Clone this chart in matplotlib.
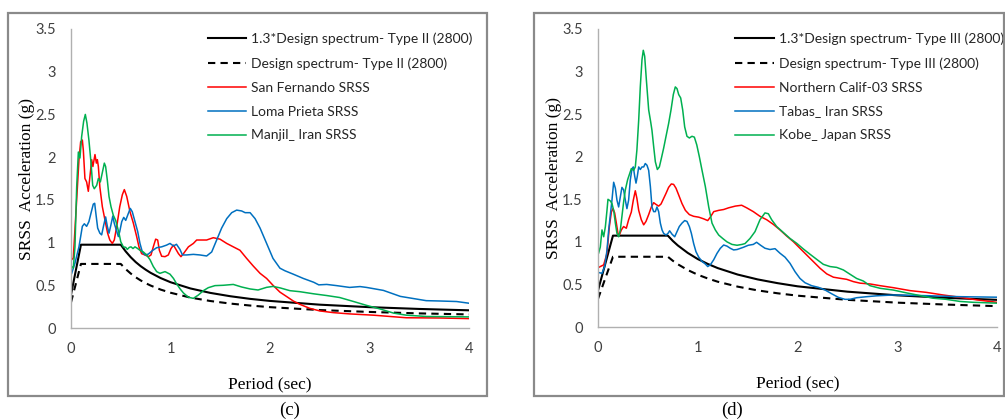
import matplotlib
matplotlib.use("Agg")
import matplotlib.pyplot as plt
from matplotlib.patches import Rectangle
from matplotlib.ticker import FuncFormatter, MultipleLocator

# ---- design spectra (2800 code), period in sec, acceleration in g ----
design2_T = [0, 0.1, 0.5, 0.55, 0.6, 0.65, 0.7, 0.75, 0.8, 0.9,
             1.0, 1.2, 1.4, 1.6, 1.8, 2.0, 2.5, 3.0, 3.5, 4.0]
design2_A = [0.30, 0.75, 0.75, 0.689, 0.638, 0.594, 0.557, 0.525, 0.497, 0.450,
             0.413, 0.356, 0.316, 0.286, 0.263, 0.244, 0.210, 0.188, 0.171, 0.159]
scaled2_A = [0.39, 0.975, 0.975, 0.896, 0.829, 0.772, 0.724, 0.683, 0.646, 0.585,
             0.536, 0.463, 0.411, 0.372, 0.341, 0.317, 0.273, 0.244, 0.223, 0.207]

design3_T = [0, 0.15, 0.7, 0.75, 0.8, 0.9, 1.0, 1.1, 1.2, 1.4,
             1.6, 1.8, 2.0, 2.5, 3.0, 3.5, 4.0]
design3_A = [0.33, 0.825, 0.825, 0.778, 0.737, 0.669, 0.614, 0.570, 0.532, 0.474,
             0.430, 0.396, 0.368, 0.319, 0.286, 0.263, 0.245]
scaled3_A = [0.429, 1.073, 1.073, 1.011, 0.958, 0.870, 0.798, 0.741, 0.692, 0.616,
             0.559, 0.515, 0.478, 0.415, 0.372, 0.342, 0.319]

# ---- SRSS spectra, soil type II ----
sf_T = [0.007, 0.023, 0.057, 0.08, 0.097, 0.114, 0.124, 0.14, 0.157, 0.174,
        0.19, 0.208, 0.22, 0.241, 0.255, 0.265, 0.275, 0.29, 0.315, 0.342,
        0.368, 0.39, 0.415, 0.435, 0.46, 0.49, 0.516, 0.536, 0.56, 0.593,
        0.626, 0.66, 0.683, 0.71, 0.744, 0.777, 0.804, 0.827, 0.851, 0.871,
        0.888, 0.911, 0.945, 0.978, 1.005, 1.03, 1.055, 1.08, 1.105, 1.13,
        1.18, 1.23, 1.263, 1.313, 1.363, 1.43, 1.497, 1.565, 1.631, 1.698,
        1.765, 1.832, 1.9, 1.966, 2.03, 2.1, 2.17, 2.234, 2.3, 2.4,
        2.5, 2.636, 2.8, 3.04, 3.37, 3.71, 4.0]
sf_A = [0.80, 0.82, 1.5, 1.97, 2.18, 2.2, 2.08, 1.75, 1.71, 1.6,
        1.77, 1.97, 1.89, 2.03, 1.93, 1.97, 1.89, 1.65, 1.42, 1.26,
        1.11, 1.03, 0.99, 1.03, 1.19, 1.42, 1.56, 1.62, 1.54, 1.36,
        1.23, 1.07, 0.95, 0.87, 0.855, 0.835, 0.855, 0.95, 1.04, 1.03,
        0.91, 0.84, 0.835, 0.855, 0.93, 0.97, 0.92, 0.87, 0.835, 0.87,
        0.95, 0.99, 1.03, 1.03, 1.03, 1.057, 1.04, 0.99, 0.95, 0.91,
        0.815, 0.725, 0.64, 0.58, 0.50, 0.42, 0.366, 0.316, 0.277, 0.23,
        0.20, 0.18, 0.165, 0.15, 0.12, 0.117, 0.11]

lp_T = [0.007, 0.04, 0.067, 0.08, 0.097, 0.114, 0.134, 0.157, 0.18, 0.2,
        0.224, 0.238, 0.25, 0.268, 0.29, 0.308, 0.328, 0.348, 0.365, 0.382,
        0.4, 0.42, 0.435, 0.46, 0.476, 0.49, 0.51, 0.53, 0.55, 0.576,
        0.596, 0.616, 0.643, 0.67, 0.693, 0.717, 0.744, 0.777, 0.817, 0.861,
        0.911, 0.96, 0.995, 1.03, 1.06, 1.095, 1.12, 1.16, 1.23, 1.296,
        1.363, 1.414, 1.464, 1.514, 1.565, 1.615, 1.665, 1.715, 1.75, 1.8,
        1.85, 1.9, 1.966, 2.03, 2.1, 2.15, 2.234, 2.335, 2.44, 2.49,
        2.57, 2.67, 2.8, 2.905, 2.97, 3.14, 3.31, 3.44, 3.57, 3.71,
        3.875, 4.0]
lp_A = [0.64, 0.76, 0.89, 0.95, 1.07, 1.19, 1.22, 1.19, 1.245, 1.34,
        1.45, 1.46, 1.34, 1.17, 1.11, 1.09, 1.2, 1.30, 1.19, 1.11,
        1.2, 1.31, 1.225, 1.13, 1.07, 1.13, 1.245, 1.295, 1.26, 1.34,
        1.40, 1.36, 1.245, 1.13, 0.99, 0.89, 0.855, 0.865, 0.905, 0.94,
        0.95, 0.97, 0.99, 0.96, 0.98, 0.92, 0.855, 0.855, 0.862, 0.855,
        0.843, 0.89, 1.03, 1.17, 1.28, 1.35, 1.38, 1.37, 1.35, 1.35,
        1.28, 1.17, 0.99, 0.815, 0.70, 0.67, 0.63, 0.58, 0.535, 0.505,
        0.51, 0.496, 0.475, 0.485, 0.475, 0.44, 0.37, 0.345, 0.32, 0.316,
        0.31, 0.29]

mj_T = [0.007, 0.023, 0.04, 0.057, 0.074, 0.09, 0.107, 0.127, 0.144, 0.16,
        0.18, 0.2, 0.218, 0.234, 0.258, 0.275, 0.295, 0.315, 0.335, 0.348,
        0.365, 0.382, 0.402, 0.425, 0.449, 0.469, 0.486, 0.5, 0.526, 0.55,
        0.566, 0.586, 0.603, 0.623, 0.643, 0.67, 0.693, 0.727, 0.76, 0.794,
        0.827, 0.861, 0.894, 0.945, 0.995, 1.03, 1.06, 1.095, 1.13, 1.18,
        1.23, 1.28, 1.33, 1.38, 1.447, 1.53, 1.631, 1.715, 1.8, 1.88,
        1.966, 2.03, 2.1, 2.2, 2.3, 2.44, 2.57, 2.7, 2.84, 2.97,
        3.1, 3.24, 3.37, 3.57, 3.77, 4.0]
mj_A = [0.72, 0.70, 0.95, 1.65, 2.06, 1.99, 2.24, 2.42, 2.50, 2.40,
        2.20, 1.95, 1.67, 1.63, 1.67, 1.75, 1.71, 1.82, 1.93, 1.89,
        1.73, 1.54, 1.42, 1.32, 1.26, 1.17, 1.09, 1.01, 0.95, 0.944,
        0.92, 0.944, 0.95, 0.93, 0.95, 0.93, 0.91, 0.89, 0.855, 0.80,
        0.72, 0.66, 0.64, 0.66, 0.63, 0.58, 0.52, 0.46, 0.41, 0.36,
        0.347, 0.386, 0.437, 0.472, 0.496, 0.50, 0.51, 0.48, 0.457, 0.445,
        0.476, 0.487, 0.47, 0.437, 0.425, 0.40, 0.38, 0.357, 0.31, 0.265,
        0.225, 0.175, 0.15, 0.135, 0.133, 0.13]

# ---- SRSS spectra, soil type III ----
nc_T = [0.007, 0.057, 0.09, 0.114, 0.134, 0.15, 0.167, 0.184, 0.2, 0.214,
        0.234, 0.257, 0.284, 0.307, 0.334, 0.354, 0.374, 0.39, 0.408, 0.434,
        0.458, 0.481, 0.508, 0.535, 0.558, 0.581, 0.608, 0.632, 0.658, 0.682,
        0.708, 0.735, 0.758, 0.782, 0.809, 0.842, 0.876, 0.916, 0.959, 1.01,
        1.06, 1.10, 1.126, 1.16, 1.21, 1.26, 1.31, 1.377, 1.44, 1.49,
        1.557, 1.624, 1.691, 1.758, 1.825, 1.89, 1.958, 2.025, 2.092, 2.159,
        2.226, 2.293, 2.36, 2.426, 2.493, 2.56, 2.627, 2.73, 2.83, 2.96,
        3.13, 3.29, 3.46, 3.63, 3.80, 4.0]
nc_A = [0.70, 0.73, 0.865, 1.18, 1.35, 1.39, 1.34, 1.22, 1.10, 1.08,
        1.14, 1.18, 1.16, 1.26, 1.35, 1.49, 1.60, 1.51, 1.37, 1.26,
        1.20, 1.24, 1.32, 1.41, 1.46, 1.44, 1.42, 1.445, 1.51, 1.57,
        1.64, 1.68, 1.675, 1.63, 1.55, 1.45, 1.37, 1.32, 1.30, 1.29,
        1.27, 1.25, 1.29, 1.355, 1.37, 1.38, 1.40, 1.42, 1.43, 1.40,
        1.355, 1.30, 1.26, 1.205, 1.14, 1.07, 1.003, 0.924, 0.846, 0.768,
        0.69, 0.624, 0.585, 0.572, 0.56, 0.533, 0.515, 0.505, 0.485, 0.462,
        0.427, 0.407, 0.376, 0.349, 0.318, 0.29]

tb_T = [0.007, 0.04, 0.067, 0.09, 0.107, 0.124, 0.14, 0.157, 0.174, 0.19,
        0.207, 0.224, 0.24, 0.257, 0.274, 0.29, 0.307, 0.324, 0.341, 0.354,
        0.368, 0.381, 0.394, 0.408, 0.424, 0.441, 0.458, 0.474, 0.491, 0.508,
        0.525, 0.541, 0.558, 0.575, 0.591, 0.608, 0.625, 0.642, 0.658, 0.682,
        0.702, 0.718, 0.742, 0.769, 0.792, 0.815, 0.842, 0.869, 0.892, 0.916,
        0.936, 0.959, 0.982, 1.01, 1.043, 1.076, 1.10, 1.126, 1.16, 1.193,
        1.226, 1.26, 1.293, 1.327, 1.36, 1.394, 1.457, 1.507, 1.557, 1.59,
        1.63, 1.674, 1.724, 1.775, 1.825, 1.875, 1.925, 1.975, 2.025, 2.075,
        2.142, 2.209, 2.276, 2.343, 2.41, 2.476, 2.526, 2.593, 2.694, 2.79,
        2.96, 3.29, 3.63, 4.0]
tb_A = [0.64, 0.63, 0.71, 0.90, 1.14, 1.32, 1.49, 1.70, 1.63, 1.49,
        1.41, 1.53, 1.64, 1.61, 1.49, 1.39, 1.49, 1.73, 1.86, 1.88,
        1.77, 1.69, 1.77, 1.88, 1.85, 1.88, 1.88, 1.92, 1.90, 1.84,
        1.65, 1.41, 1.355, 1.355, 1.41, 1.355, 1.22, 1.14, 1.10, 1.08,
        1.10, 1.13, 1.09, 1.06, 1.12, 1.18, 1.22, 1.25, 1.24, 1.18,
        1.10, 0.98, 0.885, 0.82, 0.77, 0.74, 0.71, 0.73, 0.79, 0.865,
        0.924, 0.963, 0.95, 0.924, 0.905, 0.91, 0.936, 0.96, 0.97, 0.995,
        0.96, 0.925, 0.91, 0.92, 0.866, 0.82, 0.748, 0.65, 0.57, 0.52,
        0.485, 0.466, 0.435, 0.39, 0.348, 0.325, 0.325, 0.344, 0.356, 0.366,
        0.376, 0.368, 0.356, 0.35]

kb_T = [0.007, 0.023, 0.04, 0.057, 0.074, 0.09, 0.1, 0.124, 0.14, 0.157,
        0.174, 0.19, 0.207, 0.224, 0.24, 0.257, 0.274, 0.297, 0.317, 0.334,
        0.357, 0.374, 0.39, 0.408, 0.424, 0.441, 0.454, 0.468, 0.485, 0.508,
        0.528, 0.541, 0.558, 0.575, 0.595, 0.615, 0.635, 0.658, 0.682, 0.708,
        0.732, 0.755, 0.775, 0.792, 0.809, 0.829, 0.849, 0.869, 0.892, 0.916,
        0.942, 0.966, 0.99, 1.016, 1.043, 1.076, 1.11, 1.143, 1.176, 1.21,
        1.25, 1.293, 1.343, 1.394, 1.444, 1.474, 1.524, 1.574, 1.624, 1.674,
        1.708, 1.741, 1.791, 1.858, 1.925, 1.992, 2.059, 2.126, 2.192, 2.259,
        2.326, 2.393, 2.46, 2.526, 2.593, 2.66, 2.727, 2.83, 2.96, 3.095,
        3.23, 3.36, 3.49, 3.63, 3.76, 4.0]
kb_A = [0.87, 0.94, 1.14, 1.06, 1.18, 1.37, 1.50, 1.48, 1.45, 1.37,
        1.22, 1.10, 1.06, 1.14, 1.30, 1.47, 1.61, 1.73, 1.80, 1.86,
        1.84, 1.88, 2.08, 2.43, 2.82, 3.14, 3.25, 3.18, 2.90, 2.55,
        2.41, 2.31, 2.12, 1.94, 1.85, 1.88, 1.98, 2.10, 2.24, 2.39,
        2.55, 2.73, 2.82, 2.80, 2.73, 2.69, 2.55, 2.35, 2.24, 2.22,
        2.24, 2.23, 2.14, 2.0, 1.84, 1.65, 1.41, 1.22, 1.14, 1.08,
        1.04, 1.00, 0.97, 0.96, 0.97, 0.98, 1.04, 1.12, 1.26, 1.34,
        1.33, 1.26, 1.18, 1.11, 1.04, 0.983, 0.916, 0.854, 0.795, 0.736,
        0.71, 0.70, 0.67, 0.62, 0.57, 0.54, 0.485, 0.454, 0.434, 0.40,
        0.369, 0.338, 0.325, 0.30, 0.29, 0.28]

RED = "#ff0000"
BLUE = "#0070c0"
GREEN = "#00b050"
TICK_FONT = "Lato"
LABEL_FONT = "Liberation Serif"


def draw_panel(ax, T_d, A_d, A_s, soil, records):
    ax.plot(T_d, A_s, color="black", lw=1.5,
            label="1.3*Design spectrum- Type %s (2800)" % soil)
    ax.plot(T_d, A_d, color="black", lw=1.5, ls=(0, (3.5, 2.5)),
            label="Design spectrum- Type %s (2800)" % soil)
    for T, A, c, name in records:
        ax.plot(T, A, color=c, lw=1.1, label=name)

    ax.set_xlim(0, 4)
    ax.set_ylim(0, 3.5)
    ax.xaxis.set_major_locator(MultipleLocator(1))
    ax.yaxis.set_major_locator(MultipleLocator(0.5))
    ax.yaxis.set_major_formatter(FuncFormatter(lambda v, p: "%g" % v))
    ax.tick_params(length=0, labelsize=10.5, colors="#404040")
    ax.tick_params(axis="y", pad=11)
    ax.tick_params(axis="x", pad=10)
    for lab in ax.get_xticklabels() + ax.get_yticklabels():
        lab.set_fontfamily(TICK_FONT)
    for side in ("top", "right"):
        ax.spines[side].set_visible(False)
    for side in ("left", "bottom"):
        ax.spines[side].set_color("#b0b0b0")
        ax.spines[side].set_linewidth(1.0)

    ax.set_xlabel("Period (sec)", fontfamily=LABEL_FONT, fontsize=12.5, labelpad=15)
    ax.set_ylabel("SRSS  Acceleration (g)", fontfamily=LABEL_FONT, fontsize=12.5,
                  labelpad=0)

    leg = ax.legend(loc="upper left", bbox_to_anchor=(0.343, 0.988), frameon=False,
                    borderaxespad=0, borderpad=0, handlelength=2.8,
                    handletextpad=0.35, labelspacing=0.86,
                    prop={"family": TICK_FONT, "size": 10})
    for txt in leg.get_texts():
        txt.set_color("#262626")


fig = plt.figure(figsize=(10.05, 4.19), dpi=100)

# outer frames around each sub-figure
for x0, w in ((8, 479), (534, 470)):
    fig.patches.append(Rectangle((x0 / 1005, 23 / 419), w / 1005, 383 / 419,
                                 transform=fig.transFigure, fill=False,
                                 edgecolor="#8a8a8a", lw=1.6))

ax1 = fig.add_axes([71 / 1005, 91 / 419, 398 / 1005, 299 / 419])
ax2 = fig.add_axes([598 / 1005, 92 / 419, 399 / 1005, 298 / 419])

draw_panel(ax1, design2_T, design2_A, scaled2_A, "II",
           [(sf_T, sf_A, RED, "San Fernando SRSS"),
            (lp_T, lp_A, BLUE, "Loma Prieta SRSS"),
            (mj_T, mj_A, GREEN, "Manjil_ Iran SRSS")])
draw_panel(ax2, design3_T, design3_A, scaled3_A, "III",
           [(nc_T, nc_A, RED, "Northern Calif-03 SRSS"),
            (tb_T, tb_A, BLUE, "Tabas_ Iran SRSS"),
            (kb_T, kb_A, GREEN, "Kobe_ Japan SRSS")])

fig.text(290 / 1005, 1 - 410 / 419, "(c)", ha="center", va="center",
         fontfamily=LABEL_FONT, fontsize=13.5)
fig.text(732 / 1005, 1 - 410 / 419, "(d)", ha="center", va="center",
         fontfamily=LABEL_FONT, fontsize=13.5)

fig.savefig("out.png", dpi=100)
